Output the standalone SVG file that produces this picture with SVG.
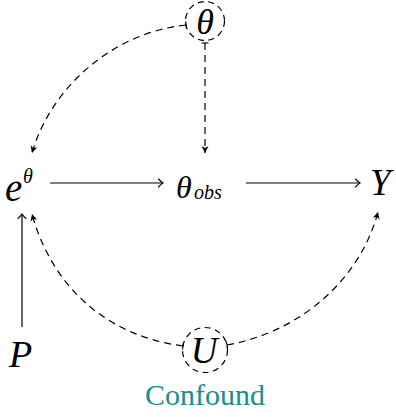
<svg xmlns="http://www.w3.org/2000/svg" width="396" height="417" viewBox="0 0 396 417" font-family="Liberation Serif">
<defs>
<marker id="to" markerUnits="userSpaceOnUse" markerWidth="12" markerHeight="12" refX="0" refY="0" viewBox="-8 -6 10 12" orient="auto" overflow="visible">
<path d="M-4.5,-4 Q-1.5,-0.8 0,0 Q-1.5,0.8 -4.5,4" fill="none" stroke="#000" stroke-width="1.1" stroke-linecap="round" stroke-dasharray="none"/>
</marker>
<marker id="st" markerUnits="userSpaceOnUse" markerWidth="12" markerHeight="12" refX="0" refY="0" viewBox="-8 -6 10 12" orient="auto" overflow="visible">
<path d="M0,0 L-7,-3.5 L-5,0 L-7,3.5 Z" fill="#000" stroke="none"/>
</marker>
<marker id="bar" markerUnits="userSpaceOnUse" markerWidth="10" markerHeight="10" refX="0" refY="0" viewBox="-5 -5 10 10" orient="auto" overflow="visible">
<path d="M0,-3.5 L0,3.5" stroke="#000" stroke-width="1.1" stroke-dasharray="none"/>
</marker>
</defs>
<g id="connectors" fill="none" stroke="#000" stroke-width="1.2">
<path d="M50,183 L163,183" marker-end="url(#to)"/>
<path d="M246,183 L360,183" marker-end="url(#to)"/>
<path d="M22,327 L22,214" marker-end="url(#to)"/>
<g stroke-dasharray="7 5">
<path d="M205,43 L205,153" marker-start="url(#bar)" marker-end="url(#st)"/>
<path d="M186,25 C110,33 50,90 32,153" marker-start="url(#bar)" marker-end="url(#st)"/>
<path d="M183,346 C100,335 50,280 32,214" marker-start="url(#bar)" marker-end="url(#st)"/>
<path d="M227,345 C300,332 360,280 378,212" marker-start="url(#bar)" marker-end="url(#st)"/>
</g>
</g>
<g id="theta">
<circle cx="205" cy="21" r="19.5" fill="none" stroke="#000" stroke-width="1.2" stroke-dasharray="6 4.5"/>
<text x="205" y="34" font-size="36" font-family="Liberation Serif" font-style="italic" text-anchor="middle">θ</text>
</g>
<g id="etheta">
<text x="5" y="201" font-size="39" font-family="Liberation Serif" font-style="italic">e</text>
<text x="23" y="183" font-size="20" font-family="Liberation Serif" font-style="italic">θ</text>
</g>
<g id="thetaobs">
<text x="176" y="198" font-size="32" font-family="Liberation Serif" font-style="italic">θ</text>
<text x="194" y="199" font-size="20" font-family="Liberation Serif" font-style="italic">obs</text>
</g>
<g id="Y">
<text x="370" y="195" font-size="37" font-family="Liberation Serif" font-style="italic">Y</text>
</g>
<g id="P">
<text x="9" y="367" font-size="38" font-family="Liberation Serif" font-style="italic">P</text>
</g>
<g id="U">
<circle cx="205" cy="350" r="22.5" fill="none" stroke="#000" stroke-width="1.2" stroke-dasharray="6 4.5"/>
<text x="204" y="363" font-size="37" font-family="Liberation Serif" font-style="italic" text-anchor="middle">U</text>
<text x="205" y="405" font-size="30" font-family="Liberation Serif" fill="#1a8f8a" text-anchor="middle">Confound</text>
</g>
</svg>
